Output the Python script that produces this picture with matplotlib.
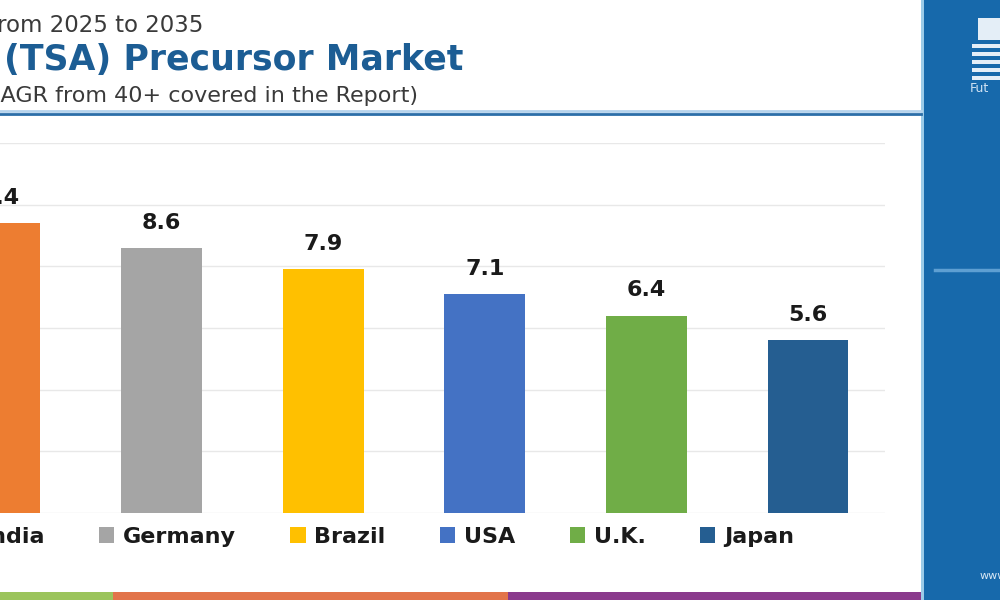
import matplotlib
matplotlib.use("Agg")
import matplotlib.pyplot as plt
from matplotlib.patches import Patch, Rectangle
from matplotlib.lines import Line2D

countries = ["India", "Germany", "Brazil", "USA", "U.K.", "Japan"]
cagr = [9.4, 8.6, 7.9, 7.1, 6.4, 5.6]
colors = ["#ed7d31", "#a5a5a5", "#ffc000", "#4472c4", "#70ad47", "#255e91"]

W, H = 1000, 600


def fx(px):
    return px / W


def fy(py):
    return 1 - py / H


fig = plt.figure(figsize=(10, 6), dpi=100)
fig.patch.set_facecolor("white")

# chart area
ax = fig.add_axes([0, fy(513), fx(885), 370 / H])
pos = list(range(len(countries)))
bars = ax.bar(pos, cagr, width=0.5, color=colors, zorder=3)
ax.set_xlim(0, 885 / 161.6)
ax.set_ylim(0, 12)
ax.set_yticks(range(0, 13, 2))
ax.grid(axis="y", color="#e8e8e8", linewidth=1, zorder=0)
ax.tick_params(left=False, bottom=False, labelleft=False, labelbottom=False)
for s in ax.spines.values():
    s.set_visible(False)

for b, v in zip(bars, cagr):
    ax.annotate(f"{v}", (b.get_x() + b.get_width() / 2, v),
                xytext=(0, 11), textcoords="offset points",
                ha="center", va="bottom", fontsize=16, fontweight="bold",
                color="#1a1a1a", annotation_clip=False)

# legend
handles = [Patch(facecolor=c, edgecolor="none", label=n) for n, c in zip(countries, colors)]
fig.legend(handles=handles, loc="center left", bbox_to_anchor=(fx(-42), fy(537)),
           ncol=6, frameon=False, prop={"weight": "bold", "size": 16},
           handlelength=0.68, handleheight=0.72, handletextpad=0.4,
           columnspacing=2.45, borderpad=0, borderaxespad=0, labelcolor="#1a1a1a")

# title block (left part cut off in the reference)
fig.text(fx(203), fy(26), "from 2025 to 2035", ha="right", va="center",
         fontsize=16.5, color="#3a3a3a")
fig.text(fx(463), fy(60), "(TSA) Precursor Market", ha="right", va="center",
         fontsize=25, fontweight="bold", color="#1c5d94")
fig.text(fx(418), fy(96), "CAGR from 40+ covered in the Report)", ha="right", va="center",
         fontsize=16, color="#3a3a3a")
fig.add_artist(Line2D([0, fx(921)], [fy(111), fy(111)], color="#b5d3ec", lw=2))
fig.add_artist(Line2D([0, fx(921)], [fy(113.5), fy(113.5)], color="#2b6ea8", lw=2))

# bottom colour strip
fig.add_artist(Rectangle((0, 0), fx(113), 8 / H, color="#9bc45c", lw=0))
fig.add_artist(Rectangle((fx(113), 0), fx(395), 8 / H, color="#e2744a", lw=0))
fig.add_artist(Rectangle((fx(508), 0), fx(414), 8 / H, color="#8a3a8c", lw=0))

# right blue panel
fig.add_artist(Rectangle((fx(922), 0), fx(78), 1, color="#1769ab", lw=0))
fig.add_artist(Rectangle((fx(921), 0), fx(3), 1, color="#9ccbe8", lw=0))
fig.add_artist(Rectangle((fx(978), fy(40)), fx(22), 22 / H, color="#e4eef7", lw=0))
for yy in range(44, 80, 8):
    fig.add_artist(Rectangle((fx(972), fy(yy + 4)), fx(28), 4 / H, color="#e4eef7", lw=0))
fig.text(fx(970), fy(89), "Fut", ha="left", va="center", fontsize=9, color="#cfe2f3")
fig.add_artist(Line2D([fx(935), 1], [fy(270), fy(270)], color="#5e9fd2", lw=2.5))
fig.text(fx(980), fy(576), "www", ha="left", va="center", fontsize=8, color="#d8e8f5")

fig.savefig("out.png", dpi=100)
